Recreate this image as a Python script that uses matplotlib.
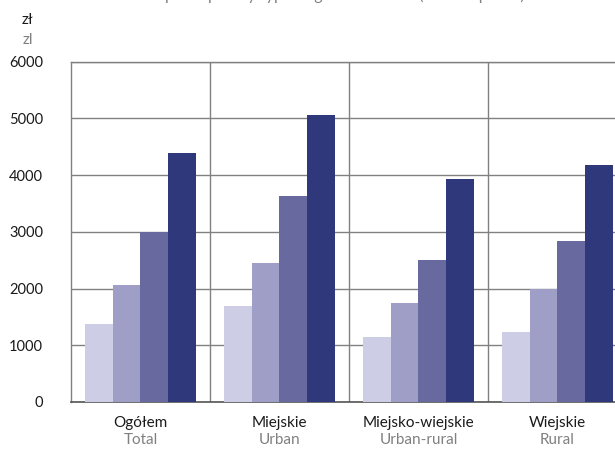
import numpy as np
import matplotlib.pyplot as plt

plt.rcParams['font.family'] = ['Lato', 'DejaVu Sans']

# dane
kategorie_pl = ['Ogółem', 'Miejskie', 'Miejsko-wiejskie', 'Wiejskie']
kategorie_en = ['Total', 'Urban', 'Urban-rural', 'Rural']
seria_1 = [1367, 1689, 1144, 1232]
seria_2 = [2071, 2458, 1748, 1994]
seria_3 = [2997, 3637, 2511, 2838]
seria_4 = [4387, 5068, 3924, 4176]
yticks = [0, 1000, 2000, 3000, 4000, 5000, 6000]

serie = [seria_1, seria_2, seria_3, seria_4]
kolory = ['#cdcde5', '#9e9ec6', '#67699f', '#2e387b']

fig = plt.figure(figsize=(6.15, 4.49), dpi=100)
ax = fig.add_axes([0.1154, 0.1047, 0.904, 0.758])

x = np.arange(len(kategorie_pl))
szer = 0.2
for i, (s, c) in enumerate(zip(serie, kolory)):
    ax.bar(x + (i - 1.5) * szer, s, width=szer, color=c, zorder=3)

ax.set_xlim(-0.5, 3.5)
ax.set_ylim(0, 6000)
ax.set_yticks(yticks)
ax.set_yticklabels([str(v) for v in yticks], fontsize=10.5, color='#1a1a1a')
ax.yaxis.grid(True, color='#808080', linewidth=1.0, zorder=0)
for xv in [0.5, 1.5, 2.5]:
    ax.axvline(xv, color='#808080', linewidth=1.0, zorder=0)

ax.set_xticks(x)
ax.set_xticklabels([''] * 4)
ax.tick_params(axis='x', length=0)
ax.tick_params(axis='y', length=0, pad=20)
for k, (pl, en) in enumerate(zip(kategorie_pl, kategorie_en)):
    ax.text(k, -0.042, pl, transform=ax.get_xaxis_transform(), ha='center', va='top',
            fontsize=11, color='#1a1a1a')
    ax.text(k, -0.09, en, transform=ax.get_xaxis_transform(), ha='center', va='top',
            fontsize=11, color='#808080')

for sp in ['top', 'left', 'right']:
    ax.spines[sp].set_color('#808080')
    ax.spines[sp].set_linewidth(1.0)
ax.spines['bottom'].set_color('#555555')
ax.spines['bottom'].set_linewidth(1.2)

fig.text(0.045, 0.955, 'zł', fontsize=11, color='#1a1a1a', ha='center', va='center')
fig.text(0.045, 0.912, 'zl', fontsize=11, color='#808080', ha='center', va='center')
fig.text(0.56, 1.01, 'per capita by type of gmina in 2022 (current prices)', fontsize=11.5,
         color='#808080', ha='center', va='center')

fig.savefig('out.png', dpi=100)
